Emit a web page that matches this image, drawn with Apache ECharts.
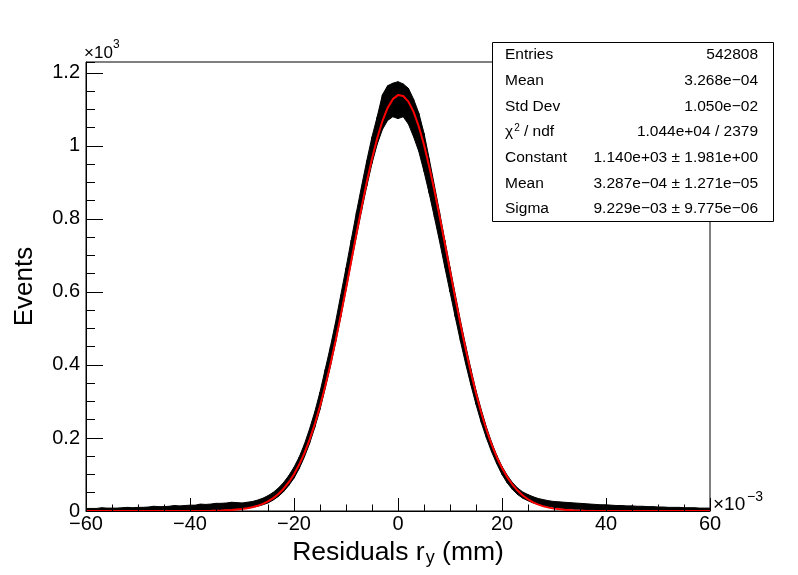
<!DOCTYPE html>
<html>
<head>
<meta charset="utf-8">
<script src="https://cdn.jsdelivr.net/npm/echarts@6/dist/echarts.min.js"></script>
<style>
html, body { margin: 0; padding: 0; background: #fff; }
#main { width: 798px; height: 575px; }
</style>
</head>
<body>
<div id="main"></div>
<script>
// histogram: x = -60 ... 60 (step 1, units of 1e-3), lower and upper edge of the black band
var histX = [];
for (var k = -60; k <= 60; k++) histX.push(k);

var histLo = [
    0, 0, 0, 0, 0, 0, 0, 0, 0, 0,
    0, 1, 1, 1, 1, 1, 1, 1, 2, 2,
    2, 2, 3, 3, 3, 4, 4, 5, 5, 6,
    7, 8, 10, 13, 17, 22, 30, 40, 53, 70,
    90, 116, 148, 185, 229, 278, 336, 396, 462, 532,
    605, 680, 752, 823, 890, 952, 1005, 1045, 1070, 1080,
    1075,
    1080, 1060, 1025, 985, 930, 870, 805, 738, 668, 600,
    532, 466, 404, 346, 292, 243, 200, 162, 129, 100,
    77, 59, 45, 35, 28, 22, 18, 15, 12, 10,
    8, 7, 6, 5, 5, 4, 4, 3, 3, 2,
    2, 2, 2, 1, 1, 1, 1, 1, 1, 0,
    0, 0, 0, 0, 0, 0, 0, 0, 0, 0
];
var histUp = [
    7, 7, 7, 9, 8, 8, 8, 9, 10, 9,
    10, 10, 11, 13, 12, 12, 13, 15, 14, 15,
    16, 16, 19, 18, 19, 21, 21, 22, 24, 23,
    22, 24, 26, 30, 35, 42, 51, 63, 78, 97,
    120, 148, 183, 225, 272, 326, 388, 450, 518, 592,
    666, 742, 818, 890, 960, 1025, 1080, 1140, 1165, 1172,
    1176,
    1170, 1158, 1128, 1090, 1035, 965, 892, 818, 742, 668,
    594, 522, 454, 390, 330, 278, 230, 188, 152, 122,
    98, 78, 63, 52, 45, 39, 34, 31, 28, 26,
    25, 24, 23, 22, 21, 20, 19, 18, 17, 17,
    16, 15, 15, 14, 14, 13, 13, 12, 12, 11,
    11, 10, 10, 10, 9, 9, 9, 8, 8, 8
];

// red fit curve, read at these x positions
var fitX = [-60, -50, -40, -38, -36, -34, -32,
    -30, -29, -28, -27, -26, -25, -24, -23, -22, -21,
    -20, -19, -18, -17, -16, -15, -14, -13, -12, -11,
    -10, -9, -8, -7, -6, -5, -4, -3, -2, -1,
    0, 1, 2, 3, 4, 5, 6, 7, 8, 9,
    10, 11, 12, 13, 14, 15, 16, 17, 18, 19,
    20, 21, 22, 23, 24, 25, 26, 27, 28, 29,
    30, 32, 34, 36, 38, 40, 50, 60];
var fitY = [0, 0, 0.1, 0.2, 0.5, 1.1, 2.5,
    5.2, 7.3, 10.3, 14.2, 19.5, 26.4, 35.3, 46.7, 61.1, 78.9,
    100.8, 127.2, 158.7, 195.6, 238.4, 287.1, 341.7, 401.7, 467.2, 536.7,
    609.4, 684.0, 758.7, 831.7, 901.2, 964.9, 1021.2, 1068.2, 1104.2, 1128.2,
    1139.3, 1137.0, 1121.5, 1093.3, 1053.4, 1003.1, 943.9, 878.0, 807.2, 733.4,
    658.6, 584.5, 512.7, 444.4, 380.7, 322.4, 269.8, 223.2, 182.5, 147.4,
    117.7, 92.9, 72.5, 55.9, 42.6, 32.0, 23.8, 17.5, 12.7, 9.2,
    6.5, 3.2, 1.5, 0.7, 0.3, 0.1, 0, 0];

var statLabels = ['Entries', 'Mean', 'Std Dev', '{t|\u03c7}{s|2}{t| / ndf}', 'Constant', 'Mean', 'Sigma'];
var statValues = ['542808', '3.268e\u221204', '1.050e\u221202', '1.044e+04 / 2379',
    '1.140e+03 \u00b1 1.981e+00', '3.287e\u221204 \u00b1 1.271e\u221205', '9.229e\u221203 \u00b1 9.775e\u221206'];

var font = "'Liberation Sans', Arial, Helvetica, sans-serif";

var bandData = [];
for (var i = 0; i < histX.length - 1; i++) {
    bandData.push([histX[i], histLo[i], histUp[i], histX[i + 1], histLo[i + 1], histUp[i + 1]]);
}
var fitData = fitX.map(function (x, i) { return [x, fitY[i]]; });

function fmtX(v) {
    return v < 0 ? '\u2212' + (-v) : String(v);
}
function fmtY(v) {
    return v === 0 ? '0' : String(v / 1000);
}

// stats box
var statBox = [{
    type: 'rect',
    shape: { x: 492.5, y: 42.5, width: 281, height: 179 },
    style: { fill: '#fff', stroke: '#000', lineWidth: 1 },
    z: 100
}];
var rowY = [54.5, 81, 106.5, 132, 157.5, 183.5, 208.5];
statLabels.forEach(function (t, i) {
    statBox.push({
        type: 'text', x: 505, y: rowY[i], z: 101,
        style: {
            text: t, fill: '#000', font: '15.5px ' + font,
            textAlign: 'left', textVerticalAlign: 'middle',
            rich: {
                t: { fontSize: 15.5, fontFamily: font, fill: '#000' },
                s: { fontSize: 10, fontFamily: font, fill: '#000', padding: [0, 0, 8, 1] }
            }
        }
    });
    statBox.push({
        type: 'text', x: 758, y: rowY[i], z: 101,
        style: {
            text: statValues[i], fill: '#000', font: '15.5px ' + font,
            textAlign: 'right', textVerticalAlign: 'middle'
        }
    });
});

var chart = echarts.init(document.getElementById('main'));
var option = {
    backgroundColor: '#fff',
    animation: false,
    grid: {
        left: 86, right: 88, top: 62, bottom: 64,
        show: true, borderColor: '#000', borderWidth: 1,
        containLabel: false
    },
    xAxis: {
        type: 'value',
        min: -60, max: 60, interval: 20,
        axisLine: { show: true, onZero: false, lineStyle: { color: '#000', width: 1 } },
        axisTick: { show: true, inside: true, length: 13, lineStyle: { color: '#000', width: 1 } },
        minorTick: { show: true, splitNumber: 4, length: 6.5, lineStyle: { color: '#000', width: 1 } },
        splitLine: { show: false },
        axisLabel: { color: '#000', fontSize: 20, fontFamily: font, margin: 3, formatter: fmtX },
        name: 'Residuals r{sub|y} (mm)',
        nameLocation: 'middle',
        nameGap: 3,
        nameTextStyle: {
            color: '#000', fontSize: 26.5, fontFamily: font,
            rich: {
                sub: { fontSize: 18, fontFamily: font, color: '#000', padding: [12, 0, 0, 1] }
            }
        },
        z: 10
    },
    yAxis: [{
        type: 'value',
        min: 0, max: 1230, interval: 200,
        position: 'left',
        axisLine: { show: true, onZero: false, lineStyle: { color: '#000', width: 1 } },
        axisTick: { show: true, inside: true, length: 17, lineStyle: { color: '#000', width: 1 } },
        splitLine: { show: false },
        axisLabel: { color: '#000', fontSize: 20, fontFamily: font, margin: 6, formatter: fmtY, showMaxLabel: false },
        name: 'Events',
        nameLocation: 'middle',
        nameGap: 48,
        nameTextStyle: { color: '#000', fontSize: 26, fontFamily: font },
        z: 10
    }, {
        type: 'value',
        min: 0, max: 1230, interval: 50,
        position: 'left',
        axisLine: { show: false, onZero: false },
        axisTick: { show: true, inside: true, length: 9, lineStyle: { color: '#000', width: 1 } },
        splitLine: { show: false },
        axisLabel: { show: false },
        z: 10
    }],
    graphic: [
        { type: 'text', x: 84, y: 53.5, z: 50, style: { text: '\u00d710', fill: '#000', font: '17px ' + font, textVerticalAlign: 'middle' } },
        { type: 'text', x: 113, y: 45, z: 50, style: { text: '3', fill: '#000', font: '12px ' + font, textVerticalAlign: 'middle' } },
        { type: 'text', x: 713, y: 505, z: 50, style: { text: '\u00d710', fill: '#000', font: '19px ' + font, textVerticalAlign: 'middle' } },
        { type: 'text', x: 747, y: 497.5, z: 50, style: { text: '\u22123', fill: '#000', font: '14px ' + font, textVerticalAlign: 'middle' } }
    ].concat(statBox),
    series: [{
        type: 'custom',
        name: 'hist',
        coordinateSystem: 'cartesian2d',
        clip: true,
        silent: true,
        data: bandData,
        encode: { x: [0, 3], y: [1, 2, 4, 5] },
        renderItem: function (params, api) {
            var p0u = api.coord([api.value(0), api.value(2)]);
            var p1u = api.coord([api.value(3), api.value(5)]);
            var p1l = api.coord([api.value(3), api.value(4)]);
            var p0l = api.coord([api.value(0), api.value(1)]);
            return {
                type: 'polygon',
                shape: { points: [p0u, p1u, p1l, p0l] },
                style: { fill: '#000', stroke: '#000', lineWidth: 1 }
            };
        },
        z: 2
    }, {
        type: 'line',
        name: 'fit',
        data: fitData,
        showSymbol: false,
        symbol: 'none',
        clip: true,
        lineStyle: { color: '#ff0000', width: 2 },
        itemStyle: { color: '#ff0000' },
        z: 3
    }]
};
chart.setOption(option);
window.addEventListener('resize', function () {
    chart.resize();
});
</script>
</body>
</html>
